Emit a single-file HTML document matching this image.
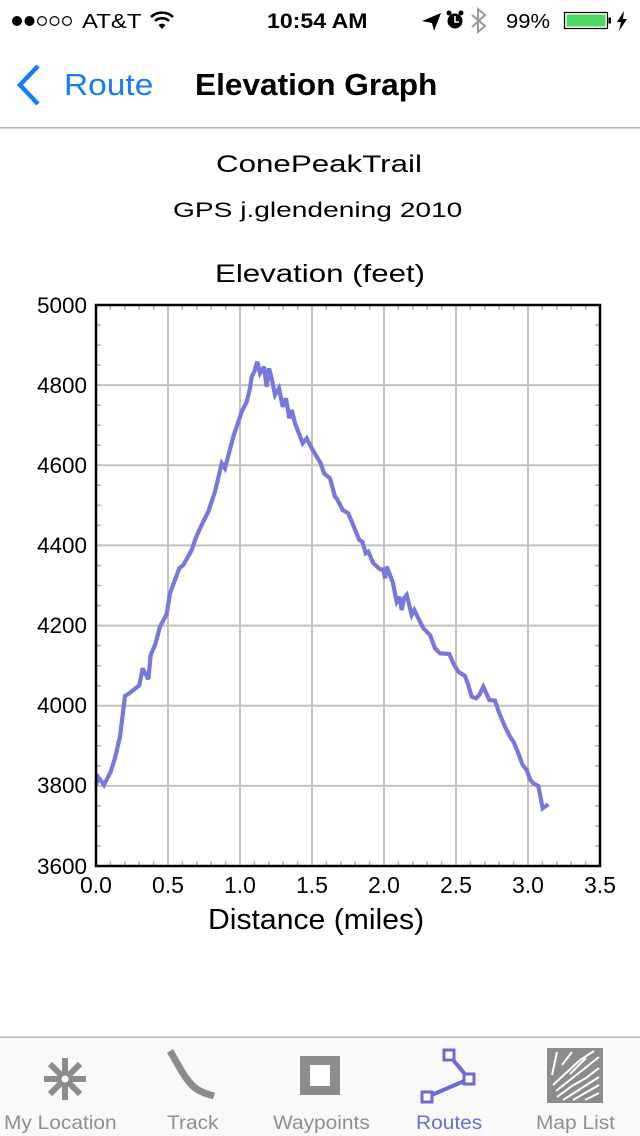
<!DOCTYPE html>
<html><head><meta charset="utf-8"><style>
html,body{margin:0;padding:0;background:#fff;}
svg{display:block;}
text{font-family:"Liberation Sans",Arial,sans-serif;}
</style></head><body>
<svg width="640" height="1136" viewBox="0 0 640 1136" xmlns="http://www.w3.org/2000/svg">
<rect x="0" y="0" width="640" height="1136" fill="#fff"/>
<!-- Status bar -->
<g>
<circle cx="17" cy="21" r="5" fill="#000"/>
<circle cx="29.5" cy="21" r="5" fill="#000"/>
<circle cx="42" cy="21" r="4.4" fill="none" stroke="#000" stroke-width="1.2"/>
<circle cx="54.5" cy="21" r="4.4" fill="none" stroke="#000" stroke-width="1.2"/>
<circle cx="67" cy="21" r="4.4" fill="none" stroke="#000" stroke-width="1.2"/>
<text x="0" y="0" font-size="20" transform="translate(82,28) scale(1.2,1)">AT&amp;T</text>
<!-- wifi -->
<path d="M151,17 A16,16 0 0 1 173,17" fill="none" stroke="#000" stroke-width="2.6"/>
<path d="M155,21 A10,10 0 0 1 169,21" fill="none" stroke="#000" stroke-width="2.6"/>
<path d="M158.5,25 L162,29 L165.5,25 A5,5 0 0 0 158.5,25 Z" fill="#000"/>
<text x="0" y="0" font-size="21" font-weight="bold" transform="translate(267,28) scale(1.1,1)">10:54 AM</text>
<!-- location arrow -->
<path d="M422,21 L441,13 L434,31 L432,23 Z" fill="#000"/>
<!-- alarm -->
<circle cx="455" cy="21" r="7.5" fill="#000"/>
<circle cx="449" cy="13" r="2.5" fill="#000"/>
<circle cx="461" cy="13" r="2.5" fill="#000"/>
<path d="M455,16 L455,22 L459,22" fill="none" stroke="#fff" stroke-width="1.6"/>
<!-- bluetooth -->
<path d="M472,15 L485,26 L478,32 L478,9 L485,15 L472,27" fill="none" stroke="#999" stroke-width="2"/>
<text x="0" y="0" font-size="20" transform="translate(506,28) scale(1.1,1)">99%</text>
<rect x="564.5" y="12.5" width="43" height="16" fill="none" stroke="#000" stroke-width="1.2"/>
<rect x="566.5" y="14.5" width="39" height="12" fill="#4cd964"/>
<rect x="608.5" y="17.5" width="2.5" height="6" fill="#000"/>
<path d="M624,11 L617,22 L621,22 L619,31 L627,19 L623,19 Z" fill="#000"/>
</g>
<!-- Nav bar -->
<path d="M38,66 L20,85 L38,104" fill="none" stroke="#1a7cf2" stroke-width="4.5" stroke-linejoin="miter"/>
<text x="0" y="0" font-size="31" fill="#1a7cf2" transform="translate(64,95) scale(1.08,1)">Route</text>
<text x="0" y="0" font-size="31" font-weight="bold" fill="#000" transform="translate(195,95) scale(1.02,1)">Elevation Graph</text>
<rect x="0" y="127" width="640" height="1.5" fill="#b5b5b5"/>
<!-- Titles -->
<text x="0" y="0" font-size="24.5" transform="translate(216,172) scale(1.278,1)">ConePeakTrail</text>
<text x="0" y="0" font-size="21" transform="translate(173,217) scale(1.34,1)">GPS j.glendening 2010</text>
<text x="0" y="0" font-size="25" transform="translate(215,282) scale(1.25,1)">Elevation (feet)</text>
<!-- Grid -->
<g stroke="#c2c2c2" stroke-width="2">
<line x1="168" y1="305" x2="168" y2="866"/>
<line x1="240" y1="305" x2="240" y2="866"/>
<line x1="312" y1="305" x2="312" y2="866"/>
<line x1="384" y1="305" x2="384" y2="866"/>
<line x1="456" y1="305" x2="456" y2="866"/>
<line x1="528" y1="305" x2="528" y2="866"/>
<line x1="96" y1="385.1" x2="600" y2="385.1"/>
<line x1="96" y1="465.3" x2="600" y2="465.3"/>
<line x1="96" y1="545.4" x2="600" y2="545.4"/>
<line x1="96" y1="625.6" x2="600" y2="625.6"/>
<line x1="96" y1="705.7" x2="600" y2="705.7"/>
<line x1="96" y1="785.9" x2="600" y2="785.9"/>
</g>
<!-- minor ticks -->
<g stroke="#b0b0b0" stroke-width="1.5">
<path d="M110.4,305v5M124.8,305v5M139.2,305v5M153.6,305v5M182.4,305v5M196.8,305v5M211.2,305v5M225.6,305v5M254.4,305v5M268.8,305v5M283.2,305v5M297.6,305v5M326.4,305v5M340.8,305v5M355.2,305v5M369.6,305v5M398.4,305v5M412.8,305v5M427.2,305v5M441.6,305v5M470.4,305v5M484.8,305v5M499.2,305v5M513.6,305v5M542.4,305v5M556.8,305v5M571.2,305v5M585.6,305v5"/>
<path d="M110.4,866v-5M124.8,866v-5M139.2,866v-5M153.6,866v-5M182.4,866v-5M196.8,866v-5M211.2,866v-5M225.6,866v-5M254.4,866v-5M268.8,866v-5M283.2,866v-5M297.6,866v-5M326.4,866v-5M340.8,866v-5M355.2,866v-5M369.6,866v-5M398.4,866v-5M412.8,866v-5M427.2,866v-5M441.6,866v-5M470.4,866v-5M484.8,866v-5M499.2,866v-5M513.6,866v-5M542.4,866v-5M556.8,866v-5M571.2,866v-5M585.6,866v-5"/>
<path d="M96,325h5M96,345.1h5M96,365.1h5M96,405.2h5M96,425.2h5M96,445.3h5M96,485.3h5M96,505.4h5M96,525.4h5M96,565.5h5M96,585.5h5M96,605.6h5M96,645.6h5M96,665.7h5M96,685.7h5M96,725.8h5M96,745.8h5M96,765.9h5M96,805.9h5M96,826h5M96,846h5"/>
<path d="M600,325h-5M600,345.1h-5M600,365.1h-5M600,405.2h-5M600,425.2h-5M600,445.3h-5M600,485.3h-5M600,505.4h-5M600,525.4h-5M600,565.5h-5M600,585.5h-5M600,605.6h-5M600,645.6h-5M600,665.7h-5M600,685.7h-5M600,725.8h-5M600,745.8h-5M600,765.9h-5M600,805.9h-5M600,826h-5M600,846h-5"/>
</g>
<!-- Data -->
<polyline fill="none" stroke="#7878dc" stroke-width="4.2" stroke-linejoin="miter" stroke-miterlimit="3" points="96,785 98.3,777.3 104,785 110.7,771.7 115,758 120,736.7 125,696 129.3,693.3 139.3,685.3 142.7,668.3 148.3,679.3 150.7,655 155,645 160,626.7 166.7,614 170,593.3 179.3,568.3 183.3,565 191.7,550 195,540 200,528.3 208.3,511.7 215,491.7 221.7,463.3 225,468.3 233.3,436.7 241.7,411.7 246.7,401.7 250,388.3 251.7,376.7 254.3,371.7 257.3,361.7 260,373.3 264,366.7 266.7,386.7 269,368.3 271.7,378.3 275,395 279,388.3 282.7,406.7 286,398.3 289.3,418.3 291.7,410 295,423.3 302.7,443.3 306.7,438.3 311.7,448.3 316.7,456.7 320.7,463.3 324,473.3 330,478.3 335,496.7 337.3,499.3 342.7,510 348.3,513.3 359.3,540 362.3,541.7 365.7,553.3 368.3,551.7 373.3,563.3 380,569.3 383.3,569.3 385,578.3 386.7,566.7 392.7,582 396.7,601.7 399.3,596.7 401.7,610 404,598.3 406.7,595 411.7,615 414.3,610 420,621.7 423.3,628.3 430,635 435,648.3 440,653.3 449.3,654 453.3,663.3 458.3,671.7 465,676 467.7,683.3 471.7,696.7 476,698.3 479.3,695 483.3,686.7 489.3,700 495,700.7 499.3,713.3 505,726.7 510,736.7 514,742.7 518.3,753.3 522.7,765 526.7,770 530,779.3 533.3,783.3 538.3,786 542.7,808.3 545,806.7 548.3,804.3"/>
<!-- Axes frame -->
<rect x="96" y="305" width="504" height="561" fill="none" stroke="#000" stroke-width="2.5"/>
<!-- Y labels -->
<g font-size="22.5" text-anchor="end">
<text x="87" y="313">5000</text>
<text x="87" y="393">4800</text>
<text x="87" y="473">4600</text>
<text x="87" y="553">4400</text>
<text x="87" y="633">4200</text>
<text x="87" y="713">4000</text>
<text x="87" y="793">3800</text>
<text x="87" y="874">3600</text>
</g>
<!-- X labels -->
<g font-size="23" text-anchor="middle">
<text x="96" y="893">0.0</text>
<text x="168" y="893">0.5</text>
<text x="240" y="893">1.0</text>
<text x="312" y="893">1.5</text>
<text x="384" y="893">2.0</text>
<text x="456" y="893">2.5</text>
<text x="528" y="893">3.0</text>
<text x="600" y="893">3.5</text>
</g>
<text x="0" y="0" font-size="29" transform="translate(208,929) scale(1.04,1)">Distance (miles)</text>
<!-- Tab bar -->
<rect x="0" y="1037" width="640" height="99" fill="#f9f9f9"/>
<rect x="0" y="1036.5" width="640" height="1.5" fill="#b5b5b5"/>
<!-- My Location icon -->
<g stroke="#8c8c8c" stroke-width="6">
<line x1="65" y1="1058" x2="65" y2="1100"/>
<line x1="44" y1="1079" x2="86" y2="1079"/>
<line x1="50" y1="1064" x2="80" y2="1094"/>
<line x1="80" y1="1064" x2="50" y2="1094"/>
</g>
<circle cx="65" cy="1079" r="7" fill="#8c8c8c"/>
<circle cx="65" cy="1079" r="3.5" fill="#fff"/>
<!-- Track icon -->
<path d="M170,1051 C178,1064 184,1078 194,1087 C200,1092 207,1094 214,1096" fill="none" stroke="#8c8c8c" stroke-width="7"/>
<!-- Waypoints icon -->
<rect x="300" y="1056" width="40" height="39" fill="#8c8c8c"/>
<rect x="310" y="1065" width="20" height="21" fill="#fff"/>
<!-- Routes icon -->
<polyline points="427,1097 469,1079 449,1055" fill="none" stroke="#6b6bd6" stroke-width="4"/>
<rect x="444" y="1050" width="10" height="10" fill="#fff" stroke="#6b6bd6" stroke-width="3"/>
<rect x="464" y="1074" width="10" height="10" fill="#fff" stroke="#6b6bd6" stroke-width="3"/>
<rect x="422" y="1092" width="10" height="10" fill="#fff" stroke="#6b6bd6" stroke-width="3"/>
<!-- Map List icon -->
<rect x="547" y="1048" width="56" height="55" fill="#8c8c8c"/>
<g stroke="#fff" stroke-width="2" fill="none">
<path d="M552,1075 L557,1052"/>
<path d="M562,1065 L572,1052"/>
<path d="M553,1085 L580,1060 L594,1051"/>
<path d="M556,1091 L599,1057"/>
<path d="M557,1097 L572,1086 L586,1078 L599,1068"/>
<path d="M563,1100 L599,1077"/>
<path d="M573,1100 L599,1085"/>
<path d="M585,1100 L599,1093"/>
<path d="M570,1074 L586,1058"/>
</g>
<g font-size="19" fill="#8e8e8e">
<text x="0" y="0" transform="translate(4,1129) scale(1.1,1)">My Location</text>
<text x="0" y="0" transform="translate(167,1129) scale(1.1,1)">Track</text>
<text x="0" y="0" transform="translate(273,1129) scale(1.1,1)">Waypoints</text>
<text x="0" y="0" fill="#6b6bd6" transform="translate(416,1129) scale(1.1,1)">Routes</text>
<text x="0" y="0" transform="translate(536,1129) scale(1.1,1)">Map List</text>
</g>
</svg>
</body></html>
